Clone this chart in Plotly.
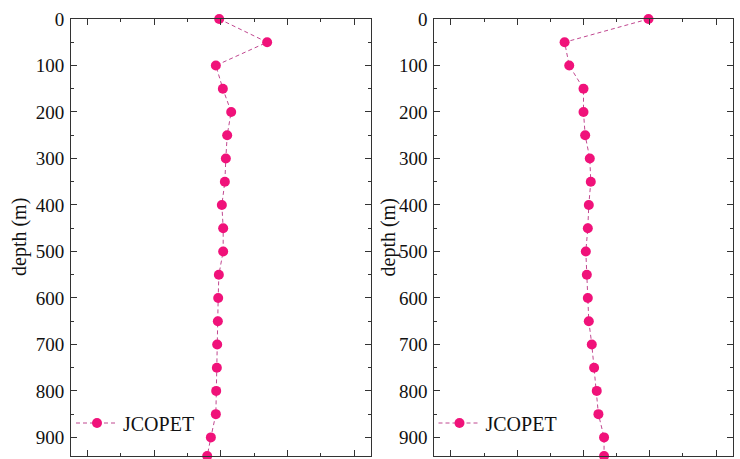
import plotly.graph_objects as go

W, H = 740, 459

depth = [0, 50, 100, 150, 200, 250, 300, 350, 400, 450, 500,
         550, 600, 650, 700, 750, 800, 850, 900, 940]
left_vals = [3.95, 5.39, 3.85, 4.06, 4.31, 4.19, 4.15, 4.12, 4.03, 4.07, 4.07,
             3.94, 3.92, 3.91, 3.89, 3.88, 3.86, 3.85, 3.70, 3.59]
right_vals = [5.96, 3.43, 3.57, 4.00, 4.00, 4.05, 4.19, 4.22, 4.16, 4.13, 4.07,
              4.10, 4.13, 4.16, 4.25, 4.32, 4.40, 4.45, 4.62, 4.62]
series_name = "JCOPET"
y_title = "depth (m)"
y_ticks = [0, 100, 200, 300, 400, 500, 600, 700, 800, 900]

MARKER = "#F0127A"
LINE = "#C04890"
FONT = "Liberation Serif"

fig = go.Figure()
for i, vals in enumerate([left_vals, right_vals]):
    fig.add_trace(go.Scatter(
        x=vals, y=depth, name=series_name, mode="lines+markers",
        xaxis="x" if i == 0 else "x2", yaxis="y" if i == 0 else "y2",
        legend="legend" if i == 0 else "legend2",
        line=dict(color=LINE, width=1, dash="4px,3px"),
        marker=dict(color=MARKER, size=10, line=dict(width=0)),
        cliponaxis=False,
    ))

def px_x(p):
    return p / W

def px_y(p):
    return 1 - p / H

ydom = [px_y(456), px_y(19)]
xdoms = [[px_x(71), px_x(370.7)], [px_x(434.3), px_x(732.7)]]

axis_common = dict(showline=True, linecolor="#333", linewidth=1, mirror="ticks",
                   ticks="inside", tickcolor="#333", showgrid=False, zeroline=False,
                   automargin=False)

for i, key in enumerate(["", "2"]):
    fig.layout["xaxis" + key] = dict(
        domain=xdoms[i], range=[-0.5, 8.5], tickvals=[0, 2, 4, 6, 8],
        showticklabels=False, ticklen=6, tickwidth=1,
        minor=dict(tickvals=[1, 3, 5, 7], ticks="inside", ticklen=3, tickcolor="#333"),
        anchor="y" + key, **axis_common)
    fig.layout["yaxis" + key] = dict(
        domain=ydom, range=[940, 0], tickvals=y_ticks,
        ticklen=6, tickwidth=1, ticklabelstandoff=2,
        tickfont=dict(family=FONT, size=19, color="#111"),
        minor=dict(tickvals=[50, 150, 250, 350, 450, 550, 650, 750, 850],
                   ticks="inside", ticklen=3, tickcolor="#333"),
        anchor="x" + key, **axis_common)

for xc in [19.5, 388]:
    fig.add_annotation(text=y_title, xref="paper", yref="paper",
                       x=px_x(xc), y=px_y(237.5), textangle=-90, showarrow=False,
                       font=dict(family=FONT, size=20, color="#111"),
                       xanchor="center", yanchor="middle")

leg_common = dict(bgcolor="rgba(0,0,0,0)", borderwidth=0,
                  font=dict(family=FONT, size=20, color="#111"),
                  xanchor="left", yanchor="middle", itemwidth=42)
fig.layout.legend = dict(x=px_x(71), y=px_y(423), **leg_common)
fig.layout.legend2 = dict(x=px_x(433.5), y=px_y(423), **leg_common)

fig.update_layout(width=W, height=H, margin=dict(l=0, r=0, t=0, b=0),
                  paper_bgcolor="white", plot_bgcolor="white", showlegend=True)

fig.write_html("out.html")
